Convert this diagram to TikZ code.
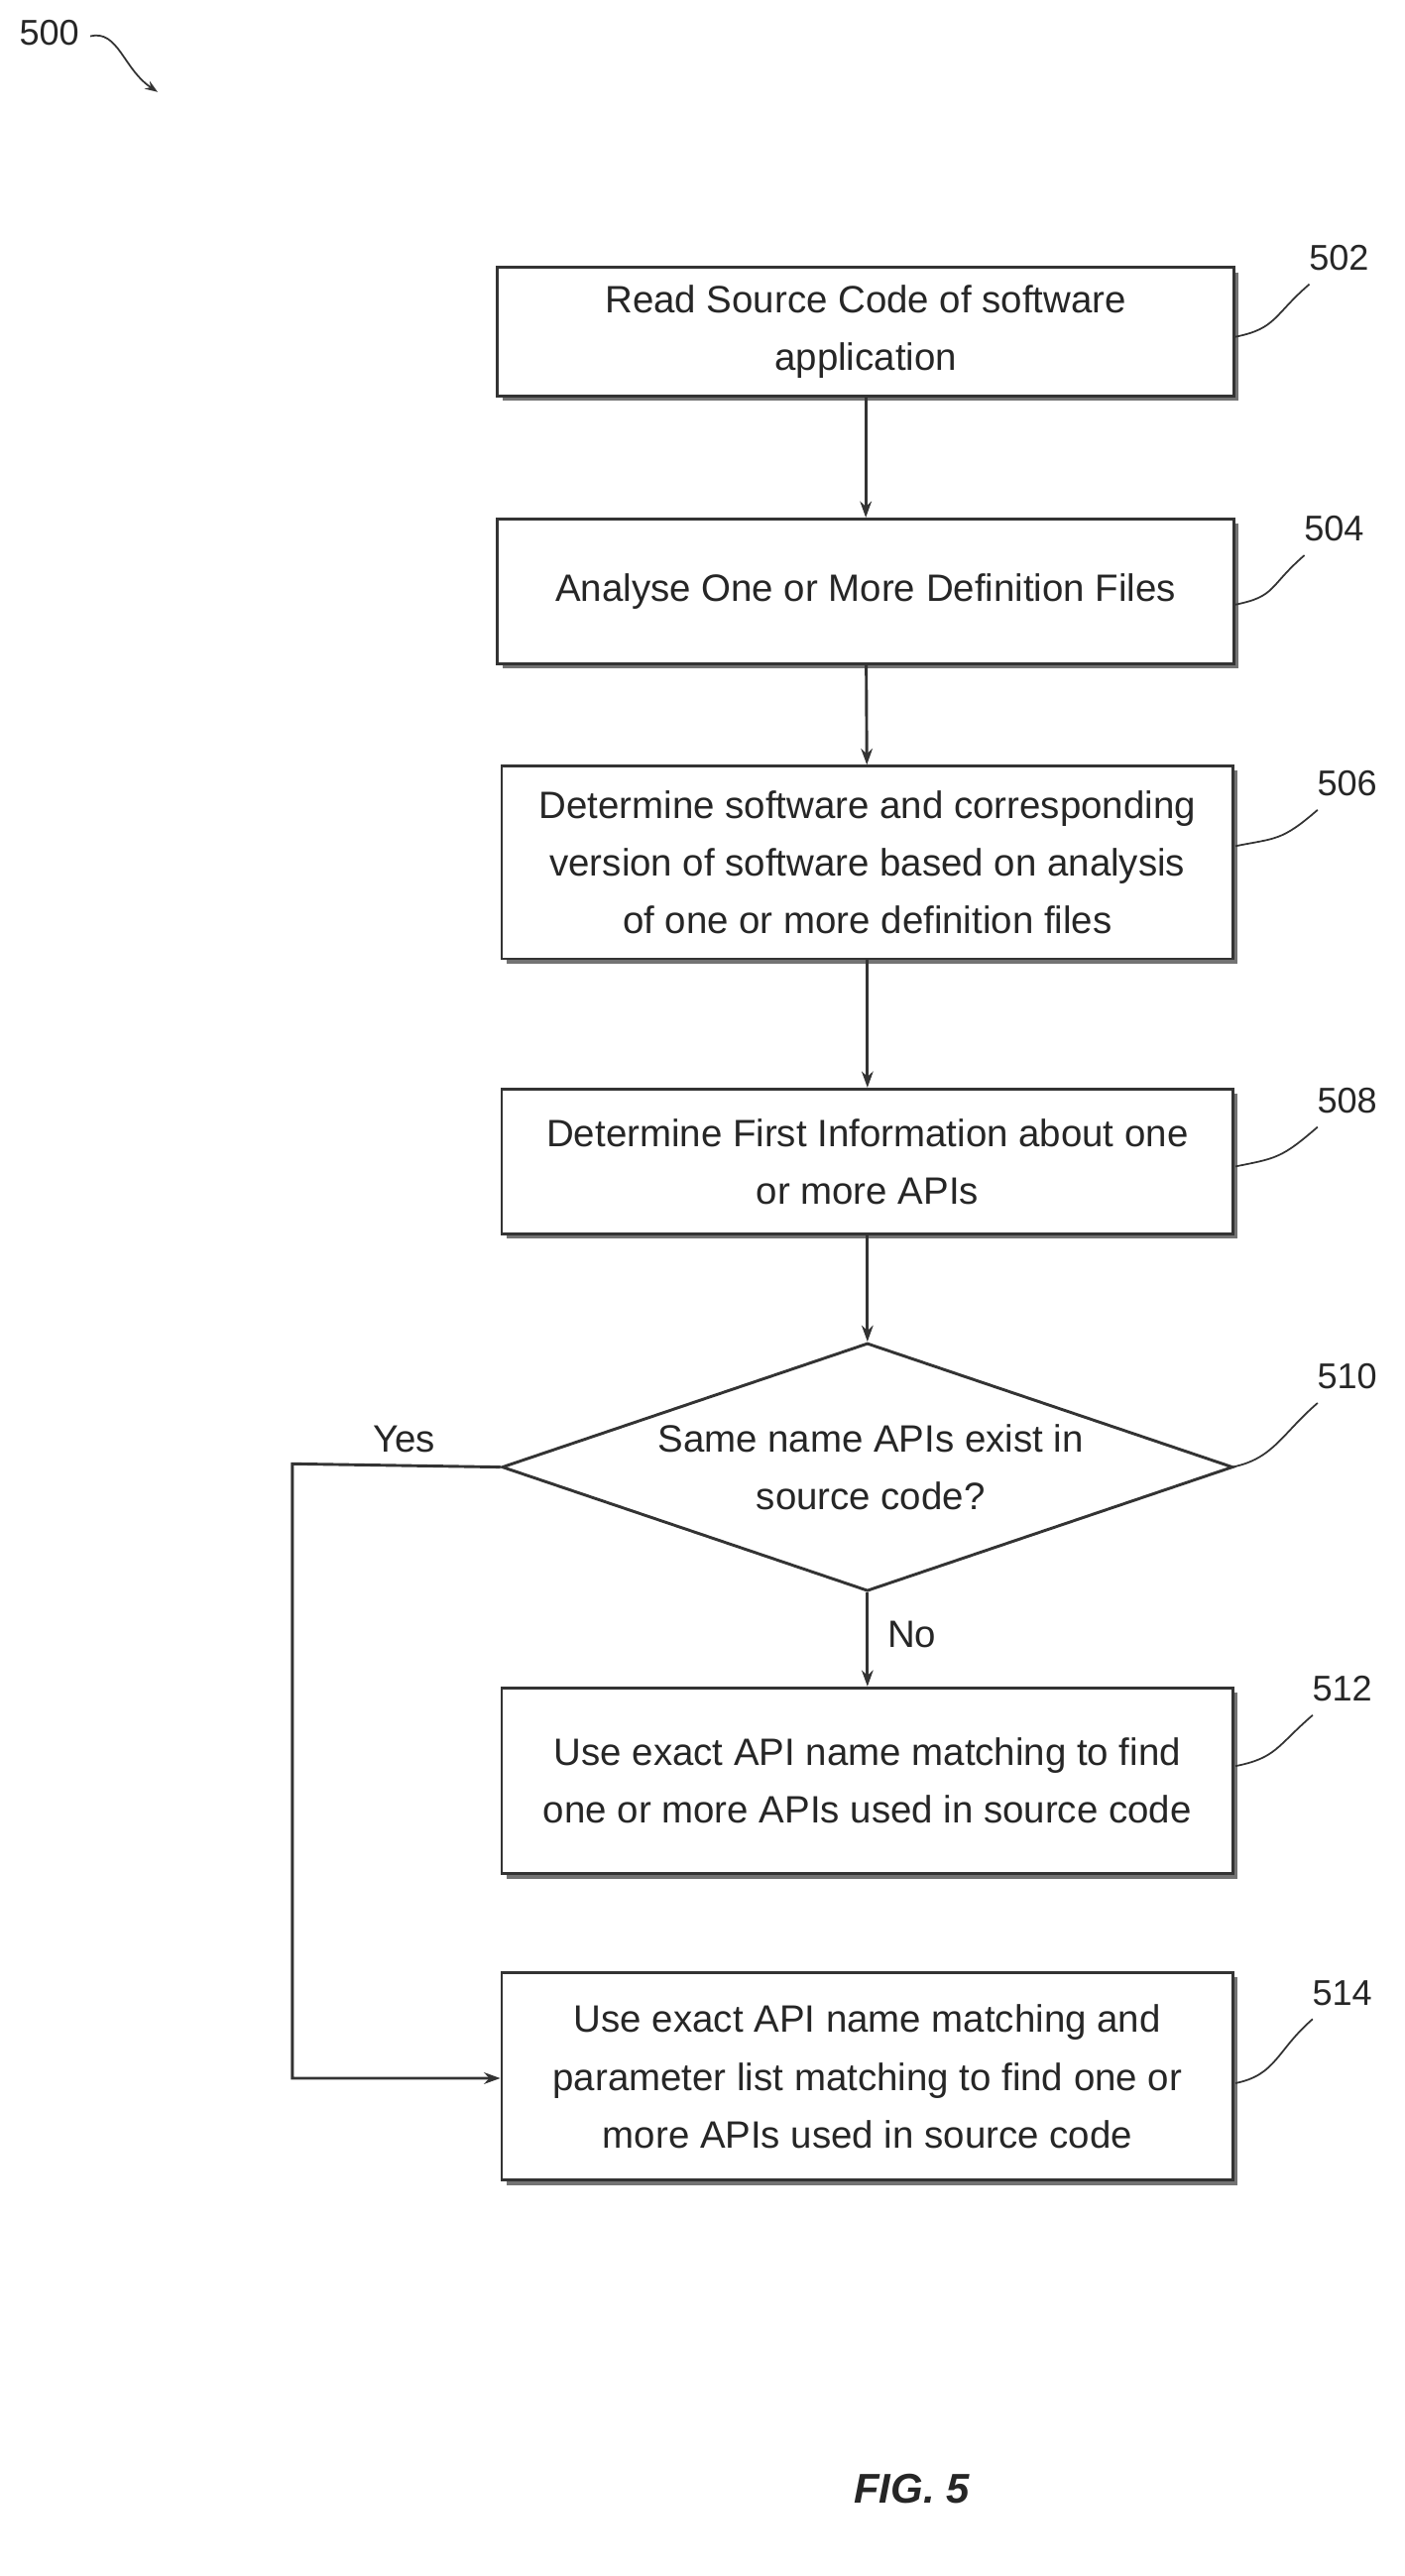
\documentclass[tikz,border=0pt]{standalone}
\usepackage{fontspec}
\setmainfont{Liberation Sans}
\usetikzlibrary{arrows.meta,shapes.geometric,shadows}
\begin{document}
\begin{tikzpicture}[x=0.1cm,y=-0.1cm,
 every node/.style={font=\fontsize{66}{100}\selectfont, text=black!85},
 box/.style={draw=black!80,line width=5pt,fill=white,align=center,
   drop shadow={shadow xshift=8pt,shadow yshift=-8pt,fill=black!55,opacity=1}},
 ln/.style={draw=black!80,line width=5pt},
 arr/.style={ln,-{Stealth[length=28pt,width=20pt]}},
 lbl/.style={font=\fontsize{62}{70}\selectfont}]
\useasboundingbox (0,0) rectangle (855,1568);
\node[box,minimum width=450*0.1cm-5pt,minimum height=80*0.1cm-5pt] (b502) at (527,202) {Read Source Code of software\\application};
\node[box,minimum width=450*0.1cm-5pt,minimum height=90*0.1cm-5pt] (b504) at (527,360) {Analyse One or More Definition Files};
\node[box,minimum width=447*0.1cm-5pt,minimum height=119*0.1cm-5pt] (b506) at (528,525) {Determine software and corresponding\\version of software based on analysis\\of one or more definition files};
\node[box,minimum width=447*0.1cm-5pt,minimum height=90*0.1cm-5pt] (b508) at (528,707) {Determine First Information about one\\or more APIs};
\node[diamond,draw=black!80,line width=5pt,fill=white,aspect=2.95,minimum width=445*0.1cm,minimum height=151*0.1cm,inner sep=0pt] (d510) at (528,893) {};
\node[align=center] at (530,893) {Same name APIs exist in\\source code?};
\node[box,minimum width=447*0.1cm-5pt,minimum height=115*0.1cm-5pt] (b512) at (528,1084) {Use exact API name matching to find\\one or more APIs used in source code};
\node[box,minimum width=447*0.1cm-5pt,minimum height=128*0.1cm-5pt] (b514) at (528,1264) {Use exact API name matching and\\parameter list matching to find one or\\more APIs used in source code};
\draw[arr] (b502) -- (b504);
\draw[arr] (b504) -- (b506);
\draw[arr] (b506) -- (b508);
\draw[arr] (b508) -- (d510);
\draw[arr] (d510) -- (b512);
\coordinate (c1) at (178,891);
\coordinate (c2) at (178,1265);
\draw[arr] (d510.west) -- (c1) -- (c2) -- (b514.west |- c2);
\node at (246,876) {Yes};
\node at (555,995) {No};
\foreach \n/\x/\y/\bx/\by in {502/815/157/752/205, 504/812/322/752/368, 506/820/477/752/515, 508/820/670/752/710, 510/820/838/750/893, 512/817/1028/752/1075, 514/817/1213/752/1268}{
 \node[lbl] (l\n) at (\x,\y) {\n};
 \draw[ln,line width=3pt] (\bx,\by) .. controls (\bx+25,\by-5) and (\x-40,\y+35) .. (\x-18,\y+16);
}
\node[lbl] (l500) at (30,20) {500};
\coordinate (a500) at (96,56);
\draw[ln,line width=3pt,-{Stealth[length=22pt,width=16pt]}] (55,22) .. controls (72,18) and (75,42) .. (a500);
\node[font=\bfseries\itshape\fontsize{72}{80}\selectfont] at (555,1515) {FIG. 5};
\end{tikzpicture}
\end{document}
